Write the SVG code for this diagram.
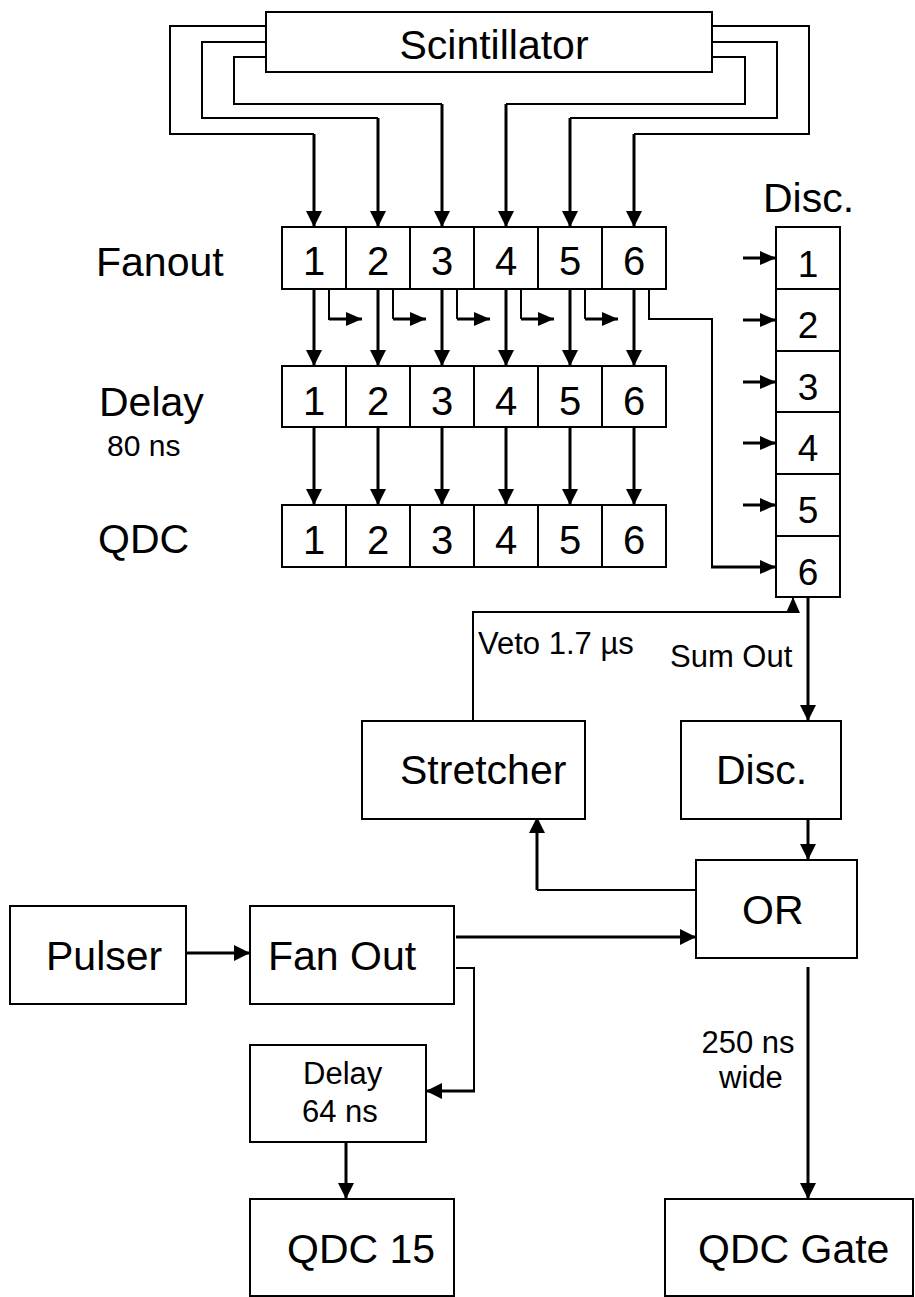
<svg xmlns="http://www.w3.org/2000/svg" width="915" height="1297" viewBox="0 0 915 1297">
<style>
.box{fill:#fff;stroke:#000;stroke-width:2}
.cell{fill:none;stroke:#000;stroke-width:2}
.thin{fill:none;stroke:#000;stroke-width:2}
.thick{fill:none;stroke:#000;stroke-width:3}
.arr{marker-end:url(#ah)}
.arrs{marker-end:url(#ahs)}
text{font-family:"Liberation Sans",Arial,sans-serif;fill:#000}
.big{font-size:41px}
.sm{font-size:31px}
.dg{font-size:40px;text-anchor:middle}
.dd{font-size:37px;text-anchor:middle}
</style>
<defs>
<marker id="ah" markerUnits="userSpaceOnUse" markerWidth="16" markerHeight="16" refX="16" refY="8" orient="auto">
<path d="M0,0 L16,8 L0,16 z" fill="#000"/>
</marker>
<marker id="ahs" markerUnits="userSpaceOnUse" markerWidth="16" markerHeight="16" refX="16" refY="8" orient="auto">
<path d="M0,1 L16,8 L0,15 z" fill="#000"/>
</marker>
</defs>

<g id="connectors">
<!-- scintillator wires left -->
<path class="thin" d="M266,26 H170 V134 H314"/>
<path class="thin" d="M266,42 H202 V118 H378"/>
<path class="thin" d="M266,57 H234 V104 H442"/>
<path class="thick arr" d="M314,134 V227"/>
<path class="thick arr" d="M378,118 V227"/>
<path class="thick arr" d="M442,104 V227"/>
<!-- scintillator wires right -->
<path class="thin" d="M712,26 H809 V134 H634"/>
<path class="thin" d="M712,42 H777 V118 H570"/>
<path class="thin" d="M712,57 H745 V104 H506"/>
<path class="thick arr" d="M506,104 V227"/>
<path class="thick arr" d="M570,118 V227"/>
<path class="thick arr" d="M634,134 V227"/>
<!-- fanout to delay -->
<path class="thick arr" d="M314,289 V366"/>
<path class="thick arr" d="M378,289 V366"/>
<path class="thick arr" d="M442,289 V366"/>
<path class="thick arr" d="M506,289 V366"/>
<path class="thick arr" d="M570,289 V366"/>
<path class="thick arr" d="M634,289 V366"/>
<!-- fanout branches -->
<path class="thin" d="M329,289 V319 H330"/>
<path class="thick arrs" d="M329,319 H362"/>
<path class="thin" d="M393,289 V319"/>
<path class="thick arrs" d="M393,319 H426"/>
<path class="thin" d="M457,289 V319"/>
<path class="thick arrs" d="M457,319 H490"/>
<path class="thin" d="M521,289 V319"/>
<path class="thick arrs" d="M521,319 H554"/>
<path class="thin" d="M585,289 V319"/>
<path class="thick arrs" d="M585,319 H618"/>
<path class="thin" d="M649,289 V319 H712 V567"/>
<path class="thick arrs" d="M711,567 H776"/>
<!-- delay to qdc -->
<path class="thick arr" d="M314,427 V505"/>
<path class="thick arr" d="M378,427 V505"/>
<path class="thick arr" d="M442,427 V505"/>
<path class="thick arr" d="M506,427 V505"/>
<path class="thick arr" d="M570,427 V505"/>
<path class="thick arr" d="M634,427 V505"/>
<!-- disc inputs -->
<path class="thick arrs" d="M743,258 H776"/>
<path class="thick arrs" d="M743,320 H776"/>
<path class="thick arrs" d="M743,382 H776"/>
<path class="thick arrs" d="M743,443 H776"/>
<path class="thick arrs" d="M743,505 H776"/>
<!-- veto -->
<path class="thin arrs" d="M473,721 V612 H793 V597"/>
<!-- sum out -->
<path class="thick arr" d="M808,597 V721"/>
<!-- disc to OR -->
<path class="thick arr" d="M808,812 V860"/>
<!-- OR to stretcher -->
<path class="thin" d="M696,890 H537"/>
<path class="thick arr" d="M537,890 V817"/>
<!-- pulser to fan out -->
<path class="thick arr" d="M184,953 H250"/>
<!-- fan out to OR -->
<path class="thick arr" d="M456,937 H696"/>
<!-- fan out to delay -->
<path class="thin" d="M456,968 H474 V1091"/>
<path class="thick arr" d="M475,1091 H426"/>
<!-- delay to qdc 15 -->
<path class="thick arr" d="M346,1137 V1199"/>
<!-- OR to QDC gate -->
<path class="thick arr" d="M808,967 V1199"/>
</g>

<g id="scintillator">
<rect class="box" x="266" y="12" width="446" height="60"/>
<text class="big" x="494" y="59" text-anchor="middle">Scintillator</text>
</g>

<g id="labels">
<text class="big" x="96" y="276">Fanout</text>
<text class="big" x="99" y="416">Delay</text>
<text class="sm" x="107" y="456" style="font-size:30px">80 ns</text>
<text class="big" x="98" y="553">QDC</text>
<text class="big" x="763" y="212">Disc.</text>
<text class="sm" x="478" y="654">Veto 1.7 µs</text>
<text class="sm" x="670" y="667">Sum Out</text>
<text class="sm" x="748" y="1053" text-anchor="middle">250 ns</text>
<text class="sm" x="751" y="1088" text-anchor="middle">wide</text>
</g>

<g id="fanout">
<rect class="box" x="282" y="227" width="384" height="62"/>
<path class="cell" d="M346,227 V289 M410,227 V289 M474,227 V289 M538,227 V289 M602,227 V289"/>
<text class="dg" x="314" y="275">1</text>
<text class="dg" x="378" y="275">2</text>
<text class="dg" x="442" y="275">3</text>
<text class="dg" x="506" y="275">4</text>
<text class="dg" x="570" y="275">5</text>
<text class="dg" x="634" y="275">6</text>
</g>

<g id="delay">
<rect class="box" x="282" y="366" width="384" height="61"/>
<path class="cell" d="M346,366 V427 M410,366 V427 M474,366 V427 M538,366 V427 M602,366 V427"/>
<text class="dg" x="314" y="415">1</text>
<text class="dg" x="378" y="415">2</text>
<text class="dg" x="442" y="415">3</text>
<text class="dg" x="506" y="415">4</text>
<text class="dg" x="570" y="415">5</text>
<text class="dg" x="634" y="415">6</text>
</g>

<g id="qdc">
<rect class="box" x="282" y="505" width="384" height="62"/>
<path class="cell" d="M346,505 V567 M410,505 V567 M474,505 V567 M538,505 V567 M602,505 V567"/>
<text class="dg" x="314" y="554">1</text>
<text class="dg" x="378" y="554">2</text>
<text class="dg" x="442" y="554">3</text>
<text class="dg" x="506" y="554">4</text>
<text class="dg" x="570" y="554">5</text>
<text class="dg" x="634" y="554">6</text>
</g>

<g id="disc-column">
<rect class="box" x="776" y="227" width="64" height="370"/>
<path class="cell" d="M776,289 H840 M776,351 H840 M776,412 H840 M776,474 H840 M776,536 H840"/>
<text class="dd" x="808" y="277">1</text>
<text class="dd" x="808" y="338">2</text>
<text class="dd" x="808" y="400">3</text>
<text class="dd" x="808" y="461">4</text>
<text class="dd" x="808" y="523">5</text>
<text class="dd" x="808" y="585">6</text>
</g>

<g id="stretcher">
<rect class="box" x="362" y="721" width="223" height="98"/>
<text class="big" x="400" y="784">Stretcher</text>
</g>

<g id="disc">
<rect class="box" x="681" y="721" width="160" height="98"/>
<text class="big" x="716" y="784">Disc.</text>
</g>

<g id="or">
<rect class="box" x="696" y="860" width="161" height="98"/>
<text class="big" x="742" y="924">OR</text>
</g>

<g id="pulser">
<rect class="box" x="10" y="906" width="176" height="98"/>
<text class="big" x="46" y="970">Pulser</text>
</g>

<g id="fan-out">
<rect class="box" x="250" y="906" width="204" height="98"/>
<text class="big" x="268" y="970">Fan Out</text>
</g>

<g id="delay64">
<rect class="box" x="250" y="1045" width="176" height="97"/>
<text class="sm" x="303" y="1084">Delay</text>
<text class="sm" x="302" y="1122">64 ns</text>
</g>

<g id="qdc15">
<rect class="box" x="250" y="1199" width="204" height="97"/>
<text class="big" x="287" y="1263">QDC 15</text>
</g>

<g id="qdc-gate">
<rect class="box" x="665" y="1199" width="248" height="97"/>
<text class="big" x="698" y="1263">QDC Gate</text>
</g>
</svg>
